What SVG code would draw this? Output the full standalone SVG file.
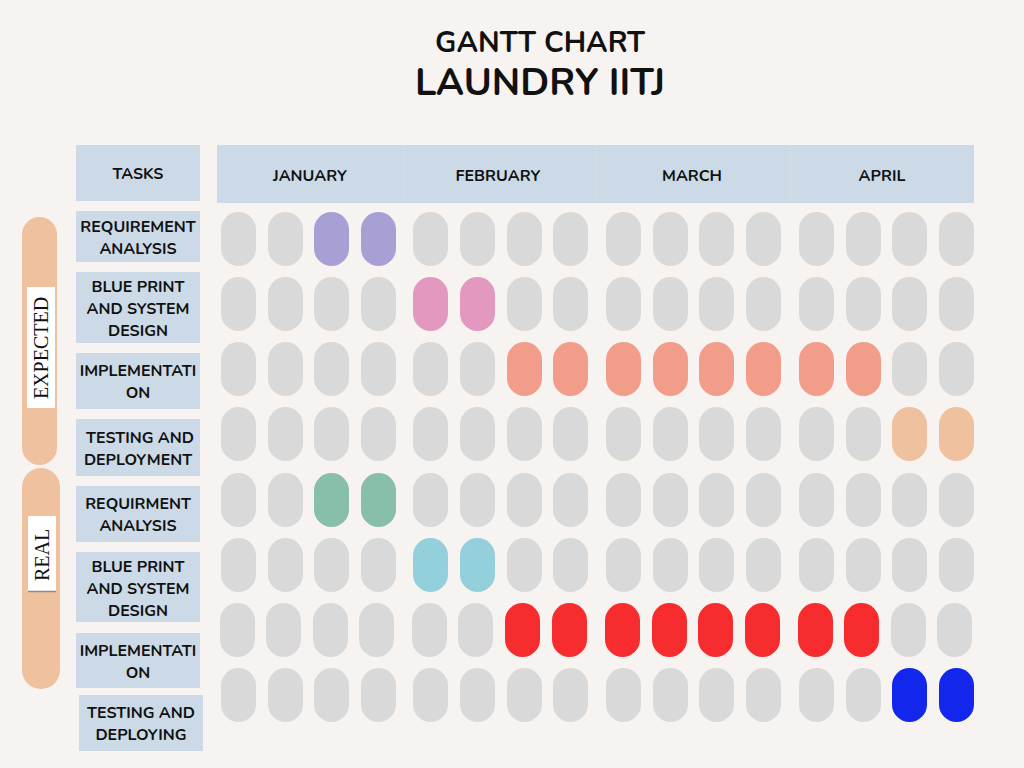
<svg xmlns="http://www.w3.org/2000/svg" width="1024" height="768" viewBox="0 0 1024 768">
<style>
.bg{fill:#f7f3f0}
.hdr{fill:#cbdae6}
.div{stroke:#d6dee4;stroke-width:1}
.lbl{fill:#cbdae6}
.t{font-family:"Nunito","Noto Sans","Liberation Sans",sans-serif;font-weight:700;fill:#111;text-anchor:middle}
.tl{font-size:16px}
.mo{font-size:16px}
.p{fill:#d9d9d9}
.pu{fill:#a8a0d4}.pk{fill:#e298bf}.sa{fill:#f29d8a}.pe{fill:#f0c19e}
.gr{fill:#88bfa8}.cy{fill:#94d0dc}.rd{fill:#f72c2e}.bl{fill:#1227eb}
.side{fill:#f0c19e}
.sl{font-family:"Liberation Serif",serif;font-size:20px;fill:#111;text-anchor:middle}
</style>
<defs>
<rect id="pill" width="35" height="54" rx="17.5" ry="17.5"/>
</defs>
<rect class="bg" x="0" y="0" width="1024" height="768"/>

<g id="title">
<text class="t" x="540" y="52" style="font-size:29px">GANTT CHART</text>
<text class="t" x="540" y="95" style="font-size:38px">LAUNDRY IITJ</text>
</g>

<g id="tasks-header">
<rect class="lbl" x="76" y="145" width="124" height="56"/>
<text class="t tl" x="138" y="179">TASKS</text>
</g>

<g id="months">
<rect class="hdr" x="217" y="145" width="757" height="58"/>
<line class="div" x1="403.5" y1="145" x2="403.5" y2="203"/>
<line class="div" x1="596.5" y1="145" x2="596.5" y2="203"/>
<line class="div" x1="790.5" y1="145" x2="790.5" y2="203"/>
<text class="t mo" x="310" y="181">JANUARY</text>
<text class="t mo" x="498" y="181">FEBRUARY</text>
<text class="t mo" x="692" y="181">MARCH</text>
<text class="t mo" x="882" y="181">APRIL</text>
</g>

<g id="side-expected">
<rect class="side" x="22" y="217" width="35" height="248" rx="17.5"/>
<rect x="27" y="287" width="28" height="121" fill="#ffffff"/>
<text class="sl" transform="translate(48,348) rotate(-90)">EXPECTED</text>
</g>
<g id="side-real">
<rect class="side" x="22" y="468" width="38" height="221" rx="19"/>
<rect x="28" y="516" width="28" height="75" fill="#ffffff"/>
<line x1="28" y1="591.5" x2="56" y2="591.5" stroke="#8a8a8a" stroke-width="1.5"/>
<text class="sl" transform="translate(49,555) rotate(-90)">REAL</text>
</g>

<g id="task-labels">
<g id="task1"><rect class="lbl" x="76" y="211" width="124" height="51"/>
<text class="t tl" x="138" y="232">REQUIREMENT</text><text class="t tl" x="138" y="254">ANALYSIS</text></g>
<g id="task2"><rect class="lbl" x="76" y="272" width="124" height="71"/>
<text class="t tl" x="138" y="292">BLUE PRINT</text><text class="t tl" x="138" y="314">AND SYSTEM</text><text class="t tl" x="138" y="336">DESIGN</text></g>
<g id="task3"><rect class="lbl" x="76" y="353" width="124" height="56"/>
<text class="t tl" x="138" y="376">IMPLEMENTATI</text><text class="t tl" x="138" y="398">ON</text></g>
<g id="task4"><rect class="lbl" x="76" y="419" width="124" height="57"/>
<text class="t tl" x="140" y="443">TESTING AND</text><text class="t tl" x="138" y="465">DEPLOYMENT</text></g>
<g id="task5"><rect class="lbl" x="76" y="486" width="124" height="56"/>
<text class="t tl" x="138" y="509">REQUIRMENT</text><text class="t tl" x="138" y="531">ANALYSIS</text></g>
<g id="task6"><rect class="lbl" x="76" y="552" width="124" height="70"/>
<text class="t tl" x="138" y="572">BLUE PRINT</text><text class="t tl" x="138" y="594">AND SYSTEM</text><text class="t tl" x="138" y="616">DESIGN</text></g>
<g id="task7"><rect class="lbl" x="76" y="633" width="124" height="55"/>
<text class="t tl" x="138" y="656">IMPLEMENTATI</text><text class="t tl" x="138" y="678">ON</text></g>
<g id="task8"><rect class="lbl" x="79" y="695" width="124" height="56"/>
<text class="t tl" x="141" y="718">TESTING AND</text><text class="t tl" x="141" y="740">DEPLOYING</text></g>
</g>

<g id="row1">
<use href="#pill" class="p" x="221" y="212"/><use href="#pill" class="p" x="268" y="212"/><use href="#pill" class="pu" x="314" y="212"/><use href="#pill" class="pu" x="361" y="212"/>
<use href="#pill" class="p" x="413" y="212"/><use href="#pill" class="p" x="460" y="212"/><use href="#pill" class="p" x="507" y="212"/><use href="#pill" class="p" x="553" y="212"/>
<use href="#pill" class="p" x="606" y="212"/><use href="#pill" class="p" x="653" y="212"/><use href="#pill" class="p" x="699" y="212"/><use href="#pill" class="p" x="746" y="212"/>
<use href="#pill" class="p" x="799" y="212"/><use href="#pill" class="p" x="846" y="212"/><use href="#pill" class="p" x="892" y="212"/><use href="#pill" class="p" x="939" y="212"/>
</g>
<g id="row2">
<use href="#pill" class="p" x="221" y="277"/><use href="#pill" class="p" x="268" y="277"/><use href="#pill" class="p" x="314" y="277"/><use href="#pill" class="p" x="361" y="277"/>
<use href="#pill" class="pk" x="413" y="277"/><use href="#pill" class="pk" x="460" y="277"/><use href="#pill" class="p" x="507" y="277"/><use href="#pill" class="p" x="553" y="277"/>
<use href="#pill" class="p" x="606" y="277"/><use href="#pill" class="p" x="653" y="277"/><use href="#pill" class="p" x="699" y="277"/><use href="#pill" class="p" x="746" y="277"/>
<use href="#pill" class="p" x="799" y="277"/><use href="#pill" class="p" x="846" y="277"/><use href="#pill" class="p" x="892" y="277"/><use href="#pill" class="p" x="939" y="277"/>
</g>
<g id="row3">
<use href="#pill" class="p" x="221" y="342"/><use href="#pill" class="p" x="268" y="342"/><use href="#pill" class="p" x="314" y="342"/><use href="#pill" class="p" x="361" y="342"/>
<use href="#pill" class="p" x="413" y="342"/><use href="#pill" class="p" x="460" y="342"/><use href="#pill" class="sa" x="507" y="342"/><use href="#pill" class="sa" x="553" y="342"/>
<use href="#pill" class="sa" x="606" y="342"/><use href="#pill" class="sa" x="653" y="342"/><use href="#pill" class="sa" x="699" y="342"/><use href="#pill" class="sa" x="746" y="342"/>
<use href="#pill" class="sa" x="799" y="342"/><use href="#pill" class="sa" x="846" y="342"/><use href="#pill" class="p" x="892" y="342"/><use href="#pill" class="p" x="939" y="342"/>
</g>
<g id="row4">
<use href="#pill" class="p" x="221" y="407"/><use href="#pill" class="p" x="268" y="407"/><use href="#pill" class="p" x="314" y="407"/><use href="#pill" class="p" x="361" y="407"/>
<use href="#pill" class="p" x="413" y="407"/><use href="#pill" class="p" x="460" y="407"/><use href="#pill" class="p" x="507" y="407"/><use href="#pill" class="p" x="553" y="407"/>
<use href="#pill" class="p" x="606" y="407"/><use href="#pill" class="p" x="653" y="407"/><use href="#pill" class="p" x="699" y="407"/><use href="#pill" class="p" x="746" y="407"/>
<use href="#pill" class="p" x="799" y="407"/><use href="#pill" class="p" x="846" y="407"/><use href="#pill" class="pe" x="892" y="407"/><use href="#pill" class="pe" x="939" y="407"/>
</g>
<g id="row5">
<use href="#pill" class="p" x="221" y="473"/><use href="#pill" class="p" x="268" y="473"/><use href="#pill" class="gr" x="314" y="473"/><use href="#pill" class="gr" x="361" y="473"/>
<use href="#pill" class="p" x="413" y="473"/><use href="#pill" class="p" x="460" y="473"/><use href="#pill" class="p" x="507" y="473"/><use href="#pill" class="p" x="553" y="473"/>
<use href="#pill" class="p" x="606" y="473"/><use href="#pill" class="p" x="653" y="473"/><use href="#pill" class="p" x="699" y="473"/><use href="#pill" class="p" x="746" y="473"/>
<use href="#pill" class="p" x="799" y="473"/><use href="#pill" class="p" x="846" y="473"/><use href="#pill" class="p" x="892" y="473"/><use href="#pill" class="p" x="939" y="473"/>
</g>
<g id="row6">
<use href="#pill" class="p" x="221" y="538"/><use href="#pill" class="p" x="268" y="538"/><use href="#pill" class="p" x="314" y="538"/><use href="#pill" class="p" x="361" y="538"/>
<use href="#pill" class="cy" x="413" y="538"/><use href="#pill" class="cy" x="460" y="538"/><use href="#pill" class="p" x="507" y="538"/><use href="#pill" class="p" x="553" y="538"/>
<use href="#pill" class="p" x="606" y="538"/><use href="#pill" class="p" x="653" y="538"/><use href="#pill" class="p" x="699" y="538"/><use href="#pill" class="p" x="746" y="538"/>
<use href="#pill" class="p" x="799" y="538"/><use href="#pill" class="p" x="846" y="538"/><use href="#pill" class="p" x="892" y="538"/><use href="#pill" class="p" x="939" y="538"/>
</g>
<g id="row7">
<use href="#pill" class="p" x="220" y="603"/><use href="#pill" class="p" x="266" y="603"/><use href="#pill" class="p" x="313" y="603"/><use href="#pill" class="p" x="359" y="603"/>
<use href="#pill" class="p" x="412" y="603"/><use href="#pill" class="p" x="458" y="603"/><use href="#pill" class="rd" x="505" y="603"/><use href="#pill" class="rd" x="552" y="603"/>
<use href="#pill" class="rd" x="605" y="603"/><use href="#pill" class="rd" x="652" y="603"/><use href="#pill" class="rd" x="698" y="603"/><use href="#pill" class="rd" x="745" y="603"/>
<use href="#pill" class="rd" x="798" y="603"/><use href="#pill" class="rd" x="844" y="603"/><use href="#pill" class="p" x="891" y="603"/><use href="#pill" class="p" x="937" y="603"/>
</g>
<g id="row8">
<use href="#pill" class="p" x="221" y="668"/><use href="#pill" class="p" x="268" y="668"/><use href="#pill" class="p" x="314" y="668"/><use href="#pill" class="p" x="361" y="668"/>
<use href="#pill" class="p" x="413" y="668"/><use href="#pill" class="p" x="460" y="668"/><use href="#pill" class="p" x="507" y="668"/><use href="#pill" class="p" x="553" y="668"/>
<use href="#pill" class="p" x="606" y="668"/><use href="#pill" class="p" x="653" y="668"/><use href="#pill" class="p" x="699" y="668"/><use href="#pill" class="p" x="746" y="668"/>
<use href="#pill" class="p" x="799" y="668"/><use href="#pill" class="p" x="846" y="668"/><use href="#pill" class="bl" x="892" y="668"/><use href="#pill" class="bl" x="939" y="668"/>
</g>

<g id="connectors"></g>
</svg>
